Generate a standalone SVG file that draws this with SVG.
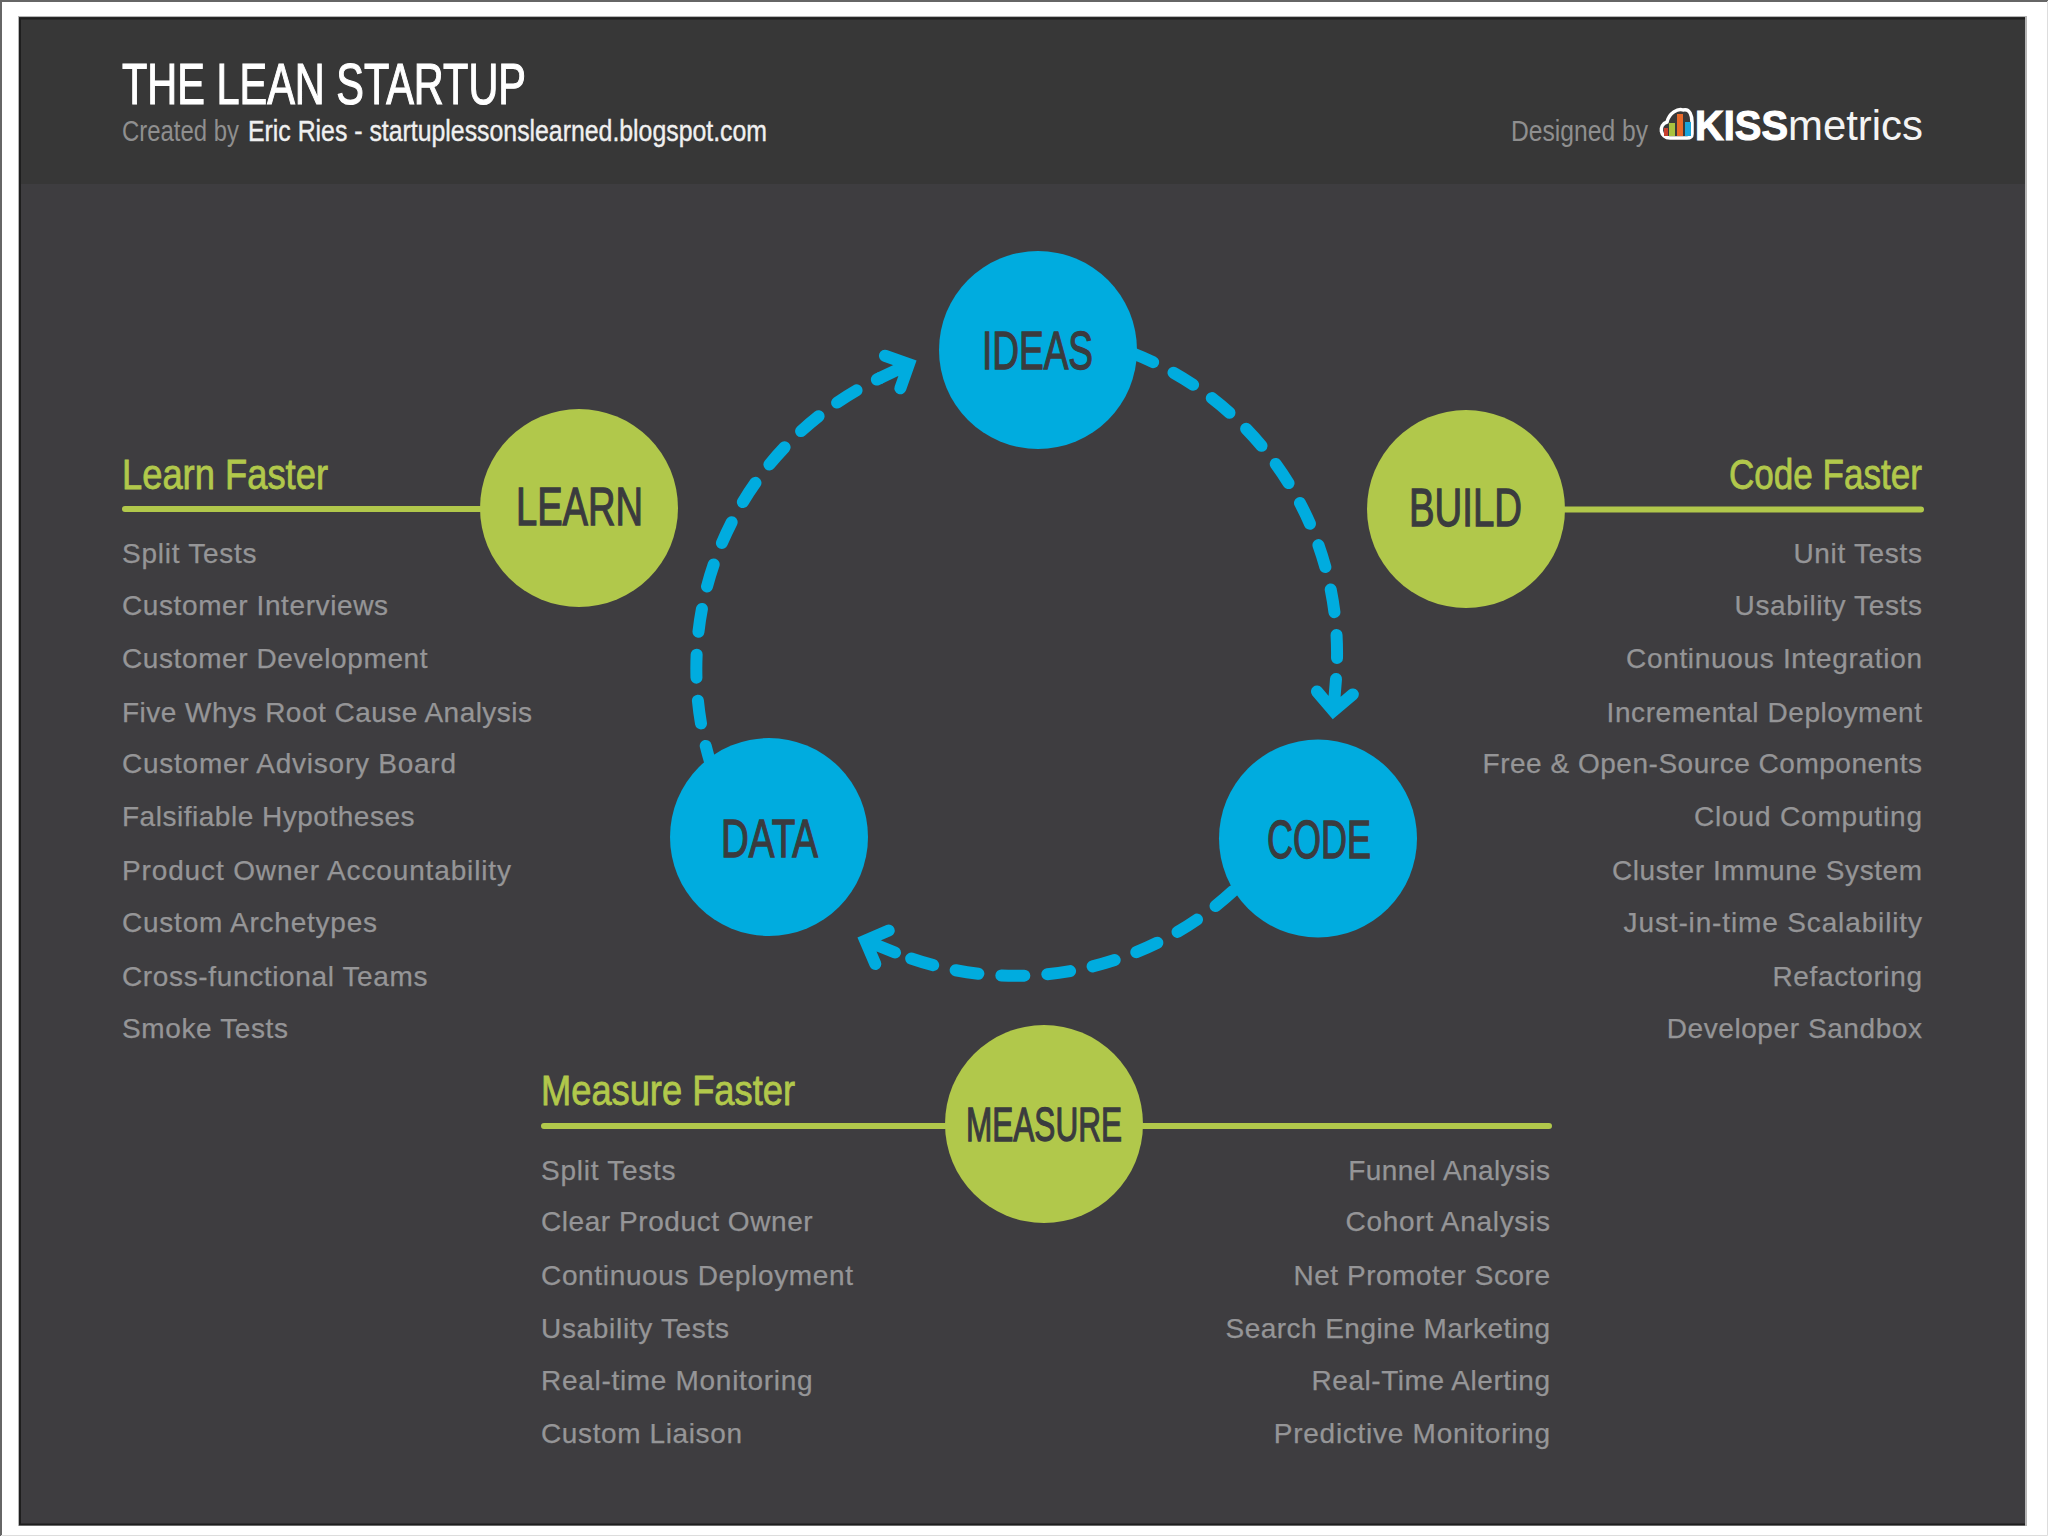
<svg xmlns="http://www.w3.org/2000/svg" width="2048" height="1536" viewBox="0 0 2048 1536">
<style>
text{font-family:"Liberation Sans",Arial,sans-serif}
.cond{font-family:"Liberation Sans Narrow","Liberation Sans",Arial,sans-serif}
.blue{fill:#00acdf}.green{fill:#b1c84b}
.lab{fill:#3a3b3e;font-size:53px;text-anchor:middle;stroke:#3a3b3e;stroke-width:1.3px}
.head{fill:#b1c84b;font-size:43px;stroke:#b1c84b;stroke-width:.8px}
.li{fill:#959597;font-size:28px;stroke:#959597;stroke-width:.25px}
.r{text-anchor:end}
.rule{stroke:#b1c84b;stroke-width:6;stroke-linecap:round;fill:none}
.dash{stroke:#00acdf;stroke-width:12;stroke-linecap:round;stroke-dasharray:23 23;fill:none;marker-end:url(#head)}
</style>
<defs>
<marker id="head" markerUnits="userSpaceOnUse" orient="auto" refX="0" refY="0" markerWidth="60" markerHeight="60" overflow="visible">
<path d="M0 0H30M14 -18L32 0L14 18" fill="none" stroke="#00acdf" stroke-width="12" stroke-linecap="round" stroke-linejoin="miter"/>
</marker>
</defs>
<rect width="2048" height="1536" fill="#fff"/>
<path d="M1 1536V1H2048" stroke="#666" stroke-width="2" fill="none"/>
<path d="M2047.500 1V1535.500H1" stroke="#ddd" stroke-width="1" fill="none"/>
<g id="panel">
<rect x="18" y="16" width="2009" height="1510" fill="#b5b5b5"/>
<rect x="19" y="17" width="2006" height="1508" fill="#3e3d40"/>
<rect x="19" y="17" width="2006" height="167" fill="#373737"/>
<path d="M19 18.500H2025M20 18V1525M19 1524.500H2025" stroke="#1e1e1e" stroke-width="2" fill="none"/>
</g>
<g id="header">
<text x="122" y="104" class="cond" font-size="58" fill="#fff" stroke="#fff" stroke-width="1.2" textLength="404" lengthAdjust="spacingAndGlyphs">THE LEAN STARTUP</text>
<text x="122" y="141" class="cond" font-size="30" fill="#8f8f8f" textLength="117" lengthAdjust="spacingAndGlyphs">Created by</text>
<text x="248" y="141" class="cond" font-size="30" fill="#f0f0f0" stroke="#f0f0f0" stroke-width=".4" textLength="519" lengthAdjust="spacingAndGlyphs">Eric Ries - startuplessonslearned.blogspot.com</text>
<text x="1511" y="141" class="cond" font-size="30" fill="#8f8f8f" textLength="137" lengthAdjust="spacingAndGlyphs">Designed by</text>
</g>
<g id="logo">
<path d="M1670 138C1660 138 1658 125 1667 122C1669 113 1678 108 1683 110C1690 108 1692 116 1692 122V134C1692 137 1690 138 1687 138Z" fill="#3a3a3a" stroke="#fff" stroke-width="3.500"/>
<rect x="1664" y="128" width="4" height="8" fill="#c8402e"/>
<rect x="1669" y="123" width="6" height="13" fill="#a9c23f"/>
<rect x="1677" y="114" width="6" height="22" fill="#e8692a"/>
<rect x="1685" y="122" width="6" height="14" fill="#18a5dc"/>
<text x="1695" y="140" font-size="42" font-weight="700" fill="#fff" stroke="#fff" stroke-width="1.2" textLength="93" lengthAdjust="spacingAndGlyphs">KISS</text>
<text x="1788" y="140" font-size="42" fill="#f4f4f4" textLength="135" lengthAdjust="spacingAndGlyphs">metrics</text>
</g>
<g id="connectors">
<path class="dash" d="M1132 353A322 322 0 0 1 1336 679"/>
<path class="dash" d="M1233 891A322 322 0 0 1 895 952.500"/>
<path class="dash" d="M712 768A322 322 0 0 1 880 378"/>
<path class="rule" d="M125 509H480"/>
<path class="rule" d="M1565 509.500H1921"/>
<path class="rule" d="M544 1126H945M1142 1126H1549"/>
</g>
<g id="ideas"><circle class="blue" cx="1038" cy="350" r="99"/><text class="lab cond" x="1037.500" y="369" textLength="111" lengthAdjust="spacingAndGlyphs">IDEAS</text></g>
<g id="code"><circle class="blue" cx="1318" cy="838.500" r="99"/><text class="lab cond" x="1319" y="858" textLength="104" lengthAdjust="spacingAndGlyphs">CODE</text></g>
<g id="data"><circle class="blue" cx="769" cy="837" r="99"/><text class="lab cond" x="769.500" y="857" textLength="97" lengthAdjust="spacingAndGlyphs">DATA</text></g>
<g id="learn"><circle class="green" cx="579" cy="508" r="99"/><text class="lab cond" x="579.500" y="525" textLength="127" lengthAdjust="spacingAndGlyphs">LEARN</text></g>
<g id="build"><circle class="green" cx="1466" cy="509" r="99"/><text class="lab cond" x="1465.500" y="526" textLength="113" lengthAdjust="spacingAndGlyphs">BUILD</text></g>
<g id="measure"><circle class="green" cx="1044" cy="1124" r="99"/><text class="lab cond" style="font-size:48px" x="1044" y="1141" textLength="156" lengthAdjust="spacingAndGlyphs">MEASURE</text></g>
<g id="learn-list">
<text class="head cond" x="122" y="489" textLength="206" lengthAdjust="spacingAndGlyphs">Learn Faster</text>
<text class="li" x="122" y="563" textLength="134.500">Split Tests</text>
<text class="li" x="122" y="615" textLength="266">Customer Interviews</text>
<text class="li" x="122" y="668" textLength="305.500">Customer Development</text>
<text class="li" x="122" y="722" textLength="410">Five Whys Root Cause Analysis</text>
<text class="li" x="122" y="773" textLength="334">Customer Advisory Board</text>
<text class="li" x="122" y="826" textLength="292.500">Falsifiable Hypotheses</text>
<text class="li" x="122" y="880" textLength="389">Product Owner Accountability</text>
<text class="li" x="122" y="932" textLength="255">Custom Archetypes</text>
<text class="li" x="122" y="986" textLength="305.500">Cross-functional Teams</text>
<text class="li" x="122" y="1038" textLength="166">Smoke Tests</text>
</g>
<g id="code-list">
<text class="head cond r" x="1922" y="489" textLength="193" lengthAdjust="spacingAndGlyphs">Code Faster</text>
<text class="li r" x="1922" y="563" textLength="128.600">Unit Tests</text>
<text class="li r" x="1922" y="615" textLength="187.400">Usability Tests</text>
<text class="li r" x="1922" y="668" textLength="296">Continuous Integration</text>
<text class="li r" x="1922" y="722" textLength="315.400">Incremental Deployment</text>
<text class="li r" x="1922" y="773" textLength="439.500">Free &amp; Open-Source Components</text>
<text class="li r" x="1922" y="826" textLength="228">Cloud Computing</text>
<text class="li r" x="1922" y="880" textLength="310">Cluster Immune System</text>
<text class="li r" x="1922" y="932" textLength="298.400">Just-in-time Scalability</text>
<text class="li r" x="1922" y="986" textLength="149.500">Refactoring</text>
<text class="li r" x="1922" y="1038" textLength="255.300">Developer Sandbox</text>
</g>
<g id="measure-list">
<text class="head cond" x="541" y="1105" textLength="254" lengthAdjust="spacingAndGlyphs">Measure Faster</text>
<text class="li" x="541" y="1180" textLength="134.500">Split Tests</text>
<text class="li" x="541" y="1231" textLength="271.600">Clear Product Owner</text>
<text class="li" x="541" y="1285" textLength="312">Continuous Deployment</text>
<text class="li" x="541" y="1338" textLength="188">Usability Tests</text>
<text class="li" x="541" y="1390" textLength="271.600">Real-time Monitoring</text>
<text class="li" x="541" y="1443" textLength="201">Custom Liaison</text>
<text class="li r" x="1550" y="1180" textLength="201.800">Funnel Analysis</text>
<text class="li r" x="1550" y="1231" textLength="204.400">Cohort Analysis</text>
<text class="li r" x="1550" y="1285" textLength="256.600">Net Promoter Score</text>
<text class="li r" x="1550" y="1338" textLength="324.500">Search Engine Marketing</text>
<text class="li r" x="1550" y="1390" textLength="238.400">Real-Time Alerting</text>
<text class="li r" x="1550" y="1443" textLength="276.200">Predictive Monitoring</text>
</g>
</svg>
